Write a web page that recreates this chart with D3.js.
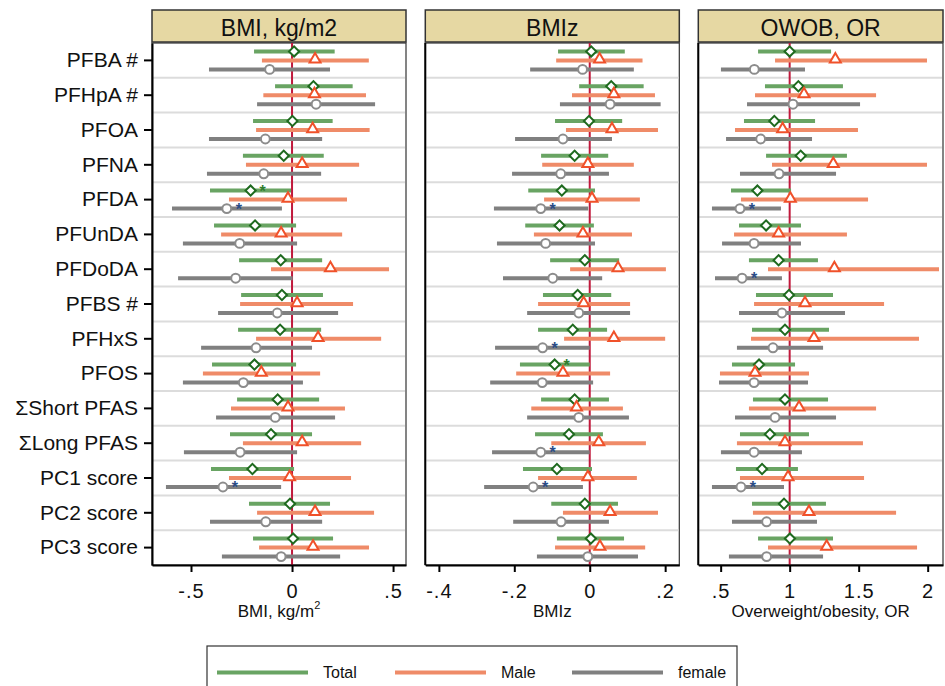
<!DOCTYPE html>
<html>
<head>
<meta charset="utf-8">
<script src="https://cdn.jsdelivr.net/npm/d3@7"></script>
<style>
  body { margin: 0; background: #fff; }
  svg { display: block; font-family: "Liberation Sans", Arial, sans-serif; }
</style>
</head>
<body>
<svg id="chart" width="945" height="686"></svg>
<script>
// ---------------- DATA ----------------
const categories = ["PFBA #", "PFHpA #", "PFOA", "PFNA", "PFDA", "PFUnDA", "PFDoDA",
  "PFBS #", "PFHxS", "PFOS", "\u03A3Short PFAS", "\u03A3Long PFAS", "PC1 score", "PC2 score", "PC3 score"];

const groups = ["Total", "Male", "female"];
const outcomes = ["BMI, kg/m2", "BMIz", "OWOB, OR"];
const axisTitles = ["BMI, kg/m", "BMIz", "Overweight/obesity, OR"];

// [lower CI, estimate, upper CI]
const bmiTotal = [[-0.188,0.010,0.211],[-0.084,0.106,0.300],[-0.193,0.002,0.201],[-0.243,-0.041,0.157],[-0.406,-0.205,-0.005],
  [-0.386,-0.183,0.020],[-0.262,-0.056,0.149],[-0.252,-0.050,0.153],[-0.267,-0.059,0.144],[-0.396,-0.186,0.020],
  [-0.272,-0.071,0.134],[-0.307,-0.104,0.099],[-0.401,-0.196,0.010],[-0.213,-0.010,0.188],[-0.193,0.005,0.203]];
const bmiMale = [[-0.149,0.114,0.380],[-0.142,0.111,0.366],[-0.178,0.102,0.384],[-0.228,0.050,0.332],[-0.312,-0.020,0.272],
  [-0.351,-0.054,0.248],[-0.104,0.190,0.480],[-0.257,0.025,0.302],[-0.178,0.129,0.441],[-0.441,-0.152,0.139],
  [-0.302,-0.020,0.262],[-0.243,0.050,0.342],[-0.312,-0.012,0.292],[-0.173,0.114,0.406],[-0.163,0.104,0.381]];
const bmiFemale = [[-0.411,-0.111,0.188],[-0.173,0.119,0.411],[-0.411,-0.132,0.149],[-0.421,-0.140,0.144],[-0.594,-0.323,-0.050],
  [-0.540,-0.259,0.025],[-0.564,-0.279,0.003],[-0.366,-0.073,0.228],[-0.450,-0.178,0.099],[-0.540,-0.241,0.054],
  [-0.376,-0.083,0.213],[-0.535,-0.257,0.025],[-0.624,-0.342,-0.054],[-0.406,-0.130,0.149],[-0.347,-0.054,0.238]];

const bmizTotal = [[-0.084,0.004,0.093],[-0.028,0.057,0.143],[-0.092,-0.002,0.086],[-0.129,-0.040,0.049],[-0.163,-0.074,0.014],
  [-0.171,-0.080,0.011],[-0.105,-0.013,0.078],[-0.124,-0.032,0.057],[-0.137,-0.045,0.046],[-0.185,-0.093,0.000],
  [-0.129,-0.040,0.051],[-0.145,-0.055,0.035],[-0.177,-0.087,0.006],[-0.102,-0.013,0.075],[-0.087,0.003,0.091]];
const bmizMale = [[-0.089,0.026,0.140],[-0.047,0.064,0.173],[-0.063,0.059,0.181],[-0.126,-0.005,0.117],[-0.121,0.006,0.133],
  [-0.148,-0.018,0.112],[-0.052,0.075,0.202],[-0.137,-0.016,0.107],[-0.068,0.064,0.200],[-0.195,-0.071,0.054],
  [-0.155,-0.035,0.088],[-0.102,0.024,0.149],[-0.137,-0.005,0.125],[-0.071,0.054,0.181],[-0.092,0.027,0.147]];
const bmizFemale = [[-0.158,-0.019,0.117],[-0.079,0.054,0.188],[-0.198,-0.071,0.059],[-0.206,-0.077,0.051],[-0.254,-0.130,-0.004],
  [-0.246,-0.117,0.014],[-0.230,-0.098,0.033],[-0.166,-0.029,0.107],[-0.251,-0.125,0.000],[-0.264,-0.126,0.009],
  [-0.166,-0.029,0.104],[-0.259,-0.130,0.000],[-0.280,-0.150,-0.018],[-0.203,-0.076,0.051],[-0.140,-0.005,0.128]];

const owobTotal = [[0.771,1.000,1.300],[0.821,1.063,1.386],[0.669,0.889,1.184],[0.829,1.080,1.415],[0.575,0.766,1.010],
  [0.633,0.829,1.082],[0.705,0.920,1.205],[0.756,0.995,1.314],[0.727,0.966,1.285],[0.582,0.778,1.039],
  [0.734,0.966,1.278],[0.640,0.857,1.140],[0.611,0.800,1.060],[0.727,0.959,1.263],[0.771,1.002,1.314]];
const owobMale = [[0.894,1.331,1.995],[0.749,1.104,1.626],[0.604,0.949,1.495],[0.872,1.316,1.995],[0.647,1.005,1.568],
  [0.597,0.920,1.415],[0.843,1.324,2.082],[0.742,1.111,1.684],[0.720,1.176,1.937],[0.495,0.749,1.140],
  [0.705,1.068,1.626],[0.618,0.966,1.531],[0.640,0.988,1.539],[0.734,1.140,1.771],[0.843,1.268,1.923]];
const owobFemale = [[0.502,0.744,1.111],[0.691,1.024,1.510],[0.539,0.790,1.162],[0.640,0.923,1.336],[0.437,0.640,0.937],
  [0.510,0.742,1.082],[0.459,0.655,0.944],[0.633,0.944,1.401],[0.618,0.879,1.242],[0.488,0.742,1.133],
  [0.604,0.894,1.336],[0.502,0.742,1.089],[0.437,0.647,0.959],[0.582,0.833,1.198],[0.560,0.833,1.242]];

// significance stars: [outcome index, category, group]
const stars = [[0,"PFDA","Total"],[0,"PFDA","female"],[0,"PC1 score","female"],
  [1,"PFDA","female"],[1,"PFHxS","female"],[1,"PFOS","Total"],[1,"\u03A3Long PFAS","female"],[1,"PC1 score","female"],
  [2,"PFDA","female"],[2,"PFDoDA","female"],[2,"PC1 score","female"]];

const xDomains = [[-0.693, 0.564], [-0.436, 0.2375], [0.338, 2.111]];
const refValues = [0, 0, 1];
const tickValues = [[-0.5, 0, 0.5], [-0.4, -0.2, 0, 0.2], [0.5, 1, 1.5, 2]];
const tickLabels = [["-.5", "0", ".5"], ["-.4", "-.2", "0", ".2"], [".5", "1", "1.5", "2"]];

const seriesData = [[bmiTotal, bmiMale, bmiFemale], [bmizTotal, bmizMale, bmizFemale], [owobTotal, owobMale, owobFemale]];

// ---------------- STYLE ----------------
const barColors = {Total: "#69a463", Male: "#ef8b68", female: "#808080"};
const markColors = {Total: "#1f6a1f", Male: "#f0512a", female: "#8c8c8c"};
const starColors = {Total: "#2f7d2f", Male: "#f0512a", female: "#2b4c86"};
const groupOffset = {Total: -9, Male: 0, female: 9};

const panels = [{x0: 152, x1: 406}, {x0: 425.3, x1: 679.3}, {x0: 698.3, x1: 943}];
const plotTop = 43, plotBottom = 565, headTop = 10;

const svg = d3.select("#chart");

const y = d3.scaleBand().domain(categories).range([plotTop, plotBottom]).padding(0);

panels.forEach((p, pi) => {
  const x = d3.scaleLinear().domain(xDomains[pi]).range([p.x0, p.x1]);
  const g = svg.append("g");

  // header
  g.append("rect").attr("x", p.x0).attr("y", headTop).attr("width", p.x1 - p.x0).attr("height", plotTop - headTop - 1)
    .attr("fill", "#e6d8a3").attr("stroke", "#333").attr("stroke-width", 1.5);
  g.append("text").attr("x", (p.x0 + p.x1) / 2).attr("y", (headTop + plotTop) / 2 + 1)
    .attr("text-anchor", "middle").attr("dominant-baseline", "central")
    .attr("font-size", 23).attr("fill", "#111").text(outcomes[pi]);

  // plot frame
  g.append("rect").attr("x", p.x0).attr("y", plotTop).attr("width", p.x1 - p.x0).attr("height", plotBottom - plotTop)
    .attr("fill", "#fff").attr("stroke", "#333").attr("stroke-width", 1.2);

  // row separators
  categories.slice(1).forEach(c => {
    g.append("line").attr("x1", p.x0 + 1).attr("x2", p.x1 - 1)
      .attr("y1", y(c)).attr("y2", y(c)).attr("stroke", "#dcdcdc").attr("stroke-width", 2);
  });

  // reference line
  g.append("line").attr("x1", x(refValues[pi])).attr("x2", x(refValues[pi]))
    .attr("y1", plotTop).attr("y2", plotBottom).attr("stroke", "#c0193c").attr("stroke-width", 2);

  // bars
  groups.forEach((grp, gi) => {
    const arr = seriesData[pi][gi];
    g.selectAll(null).data(arr).enter().append("line")
      .attr("x1", d => x(d[0])).attr("x2", d => x(d[2]))
      .attr("y1", (d, i) => y(categories[i]) + y.bandwidth() / 2 + groupOffset[grp])
      .attr("y2", (d, i) => y(categories[i]) + y.bandwidth() / 2 + groupOffset[grp])
      .attr("stroke", barColors[grp]).attr("stroke-width", 4);
  });

  // markers
  groups.forEach((grp, gi) => {
    const arr = seriesData[pi][gi];
    const sel = g.selectAll(null).data(arr).enter().append("path")
      .attr("fill", "#fff").attr("stroke", markColors[grp]).attr("stroke-width", 2);
    if (grp === "Total") {
      sel.attr("d", d3.symbol().type(d3.symbolSquare).size(52)())
        .attr("transform", (d, i) => `translate(${x(d[1])},${y(categories[i]) + y.bandwidth() / 2 + groupOffset[grp]}) rotate(45)`);
    } else if (grp === "Male") {
      sel.attr("d", d3.symbol().type(d3.symbolTriangle).size(52)())
        .attr("transform", (d, i) => `translate(${x(d[1])},${y(categories[i]) + y.bandwidth() / 2 + groupOffset[grp] - 1})`);
    } else {
      sel.attr("d", d3.symbol().type(d3.symbolCircle).size(62)())
        .attr("transform", (d, i) => `translate(${x(d[1])},${y(categories[i]) + y.bandwidth() / 2 + groupOffset[grp]})`);
    }
  });

  // stars
  stars.filter(s => s[0] === pi).forEach(s => {
    const ci = categories.indexOf(s[1]);
    const gi = groups.indexOf(s[2]);
    const est = seriesData[pi][gi][ci][1];
    g.append("text").attr("x", x(est) + 12).attr("y", y(s[1]) + y.bandwidth() / 2 + groupOffset[s[2]] + 6)
      .attr("text-anchor", "middle").attr("font-size", 16).attr("font-weight", "bold")
      .attr("fill", starColors[s[2]]).text("*");
  });

  // bottom axis
  const ax = d3.axisBottom(x).tickValues(tickValues[pi])
    .tickFormat((d, i) => tickLabels[pi][i]).tickSize(7).tickPadding(12).tickSizeOuter(0);
  const axg = g.append("g").attr("transform", `translate(0,${plotBottom})`).call(ax);
  axg.select(".domain").attr("stroke", "#000").attr("stroke-width", 2);
  axg.selectAll(".tick line").attr("stroke", "#000").attr("stroke-width", 2);
  axg.selectAll(".tick text").attr("font-size", 20).attr("fill", "#111")
    .attr("font-family", "Liberation Sans, Arial, sans-serif").attr("letter-spacing", 1);

  // axis title
  const t = g.append("text").attr("x", (p.x0 + p.x1) / 2).attr("y", 617)
    .attr("text-anchor", "middle").attr("font-size", 17).attr("fill", "#111");
  t.append("tspan").text(axisTitles[pi]);
  if (pi === 0) {
    t.append("tspan").attr("font-size", 11).attr("dy", -8).text("2");
  }

  // left axis (first panel only)
  if (pi === 0) {
    const ay = d3.axisLeft(y).tickSize(8).tickPadding(6).tickSizeOuter(0);
    const ayg = g.append("g").attr("transform", `translate(${p.x0},0)`).call(ay);
    ayg.select(".domain").attr("stroke", "#000").attr("stroke-width", 2);
    ayg.selectAll(".tick line").attr("stroke", "#000").attr("stroke-width", 2);
    ayg.selectAll(".tick text").attr("font-size", 21).attr("fill", "#111")
      .attr("font-family", "Liberation Sans, Arial, sans-serif");
  } else {
    g.append("line").attr("x1", p.x0).attr("x2", p.x0).attr("y1", plotTop).attr("y2", plotBottom)
      .attr("stroke", "#000").attr("stroke-width", 2);
  }
});

// legend
const lg = svg.append("g");
lg.append("rect").attr("x", 207).attr("y", 646).attr("width", 530).attr("height", 60)
  .attr("fill", "#fff").attr("stroke", "#333").attr("stroke-width", 1.2);
const legendX = [217, 395, 572];
groups.forEach((grp, i) => {
  lg.append("line").attr("x1", legendX[i]).attr("x2", legendX[i] + 91).attr("y1", 672.5).attr("y2", 672.5)
    .attr("stroke", barColors[grp]).attr("stroke-width", 4);
  lg.append("text").attr("x", legendX[i] + 106).attr("y", 672.5).attr("dominant-baseline", "central")
    .attr("font-size", 16).attr("fill", "#111").text(grp);
});
</script>
</body>
</html>
